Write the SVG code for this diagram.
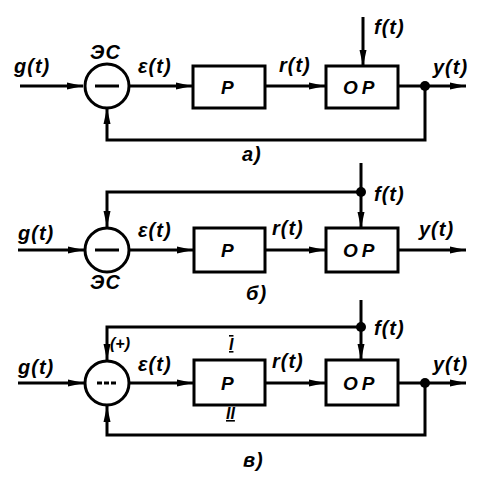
<svg xmlns="http://www.w3.org/2000/svg" width="484" height="481" viewBox="0 0 484 481">
<style>
.ln{fill:none;stroke:#000;stroke-width:3;stroke-linejoin:miter}
.box{fill:#fff;stroke:#000;stroke-width:3}
.t{font-family:"Liberation Sans",Arial,sans-serif;font-style:italic;font-weight:bold;font-size:20px;letter-spacing:1px;fill:#000}
.s{font-size:16px;letter-spacing:0}
.in{font-size:19px;letter-spacing:4px}
</style>
<defs>
<marker id="ar" viewBox="0 0 16 8" refX="16" refY="4" markerWidth="16" markerHeight="8" markerUnits="userSpaceOnUse" orient="auto">
<path d="M0,0.5 L16,4 L0,7.5 Z" fill="#000"/>
</marker>
</defs>
<rect width="484" height="481" fill="#fff"/>

<g id="connectors">
<line class="ln" x1="20" y1="86" x2="83" y2="86" marker-end="url(#ar)"/>
<line class="ln" x1="130" y1="86" x2="192" y2="86" marker-end="url(#ar)"/>
<line class="ln" x1="265" y1="86" x2="325" y2="86" marker-end="url(#ar)"/>
<line class="ln" x1="363" y1="17" x2="363" y2="66" marker-end="url(#ar)"/>
<line class="ln" x1="398" y1="86" x2="466" y2="86" marker-end="url(#ar)"/>
<polyline class="ln" points="425,86 425,140 107,140 107,108" marker-end="url(#ar)"/>
<circle cx="425" cy="86" r="5" fill="#000"/>

<line class="ln" x1="18" y1="250" x2="84" y2="250" marker-end="url(#ar)"/>
<line class="ln" x1="130" y1="250" x2="193" y2="250" marker-end="url(#ar)"/>
<line class="ln" x1="265" y1="250" x2="325" y2="250" marker-end="url(#ar)"/>
<line class="ln" x1="361" y1="163" x2="361" y2="228" marker-end="url(#ar)"/>
<polyline class="ln" points="361,192 107,192 107,227" marker-end="url(#ar)"/>
<line class="ln" x1="398" y1="250" x2="466" y2="250" marker-end="url(#ar)"/>
<circle cx="361" cy="192" r="5" fill="#000"/>

<line class="ln" x1="18" y1="383" x2="84" y2="383" marker-end="url(#ar)"/>
<line class="ln" x1="130" y1="383" x2="193" y2="383" marker-end="url(#ar)"/>
<line class="ln" x1="265" y1="383" x2="325" y2="383" marker-end="url(#ar)"/>
<line class="ln" x1="361" y1="300" x2="361" y2="360" marker-end="url(#ar)"/>
<polyline class="ln" points="361,327 107,327 107,360" marker-end="url(#ar)"/>
<line class="ln" x1="398" y1="383" x2="466" y2="383" marker-end="url(#ar)"/>
<polyline class="ln" points="425,383 425,435 107,435 107,406" marker-end="url(#ar)"/>
<circle cx="361" cy="327" r="5" fill="#000"/>
<circle cx="425" cy="383" r="5" fill="#000"/>
</g>

<g id="es_a"><circle class="box" cx="107" cy="86" r="22"/><line class="ln" x1="95" y1="86" x2="119" y2="86"/></g>
<g id="p_a"><rect class="box" x="193" y="66" width="72" height="42"/><text class="t in" x="221" y="94">P</text></g>
<g id="op_a"><rect class="box" x="326" y="66" width="72" height="42"/><text class="t in" x="343" y="94">OP</text></g>

<g id="es_b"><circle class="box" cx="107" cy="250" r="22"/><line class="ln" x1="95" y1="250" x2="119" y2="250"/></g>
<g id="p_b"><rect class="box" x="194" y="228" width="71" height="44"/><text class="t in" x="221" y="257">P</text></g>
<g id="op_b"><rect class="box" x="326" y="228" width="72" height="44"/><text class="t in" x="343" y="257">OP</text></g>

<g id="es_c"><circle class="box" cx="107" cy="383" r="22"/><line class="ln" x1="97" y1="383" x2="117" y2="383" stroke-dasharray="5,2"/></g>
<g id="p_c"><rect class="box" x="194" y="360" width="71" height="45"/><text class="t in" x="221" y="390">P</text></g>
<g id="op_c"><rect class="box" x="326" y="360" width="72" height="45"/><text class="t in" x="343" y="390">OP</text></g>

<g id="labels">
<text class="t" x="14" y="73">g(t)</text>
<text class="t" x="90" y="59">ЭС</text>
<text class="t" x="138" y="73">ε(t)</text>
<text class="t" x="279" y="72">r(t)</text>
<text class="t" x="374" y="34">f(t)</text>
<text class="t" x="433" y="74">y(t)</text>
<text class="t" x="242" y="161">a)</text>

<text class="t" x="18" y="240">g(t)</text>
<text class="t" x="90" y="289">ЭС</text>
<text class="t" x="138" y="237">ε(t)</text>
<text class="t" x="272" y="235">r(t)</text>
<text class="t" x="374" y="201">f(t)</text>
<text class="t" x="419" y="236">y(t)</text>
<text class="t" x="246" y="300">б)</text>

<text class="t" x="18" y="374">g(t)</text>
<text class="t s" x="110" y="349">(+)</text>
<text class="t" x="138" y="371">ε(t)</text>
<text class="t" x="272" y="368">r(t)</text>
<text class="t" x="374" y="335">f(t)</text>
<text class="t" x="433" y="371">y(t)</text>
<text class="t s" x="229" y="350" text-decoration="overline underline">I</text>
<text class="t s" x="226" y="419" text-decoration="underline">II</text>
<text class="t" x="243" y="467">в)</text>
</g>
</svg>
